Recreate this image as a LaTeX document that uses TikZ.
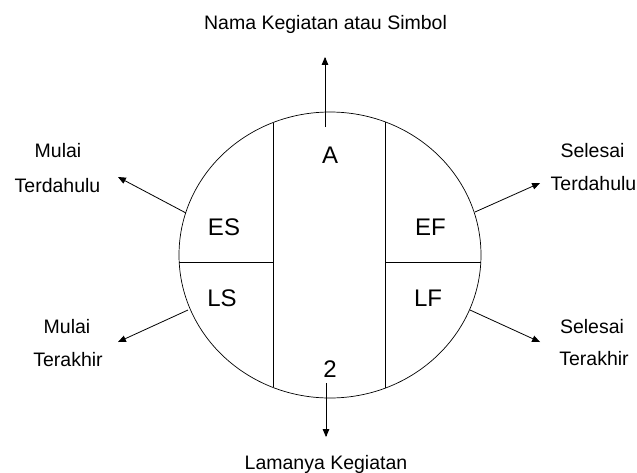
\documentclass[tikz,border=0pt]{standalone}
\usepackage{fontspec}
\setmainfont{Liberation Sans}
\usetikzlibrary{arrows}
\tikzset{>=triangle 45}

\begin{document}
\begin{tikzpicture}
    [x=1pt, y=-1pt, line width=0.8pt,
      lbl/.style={anchor=base, inner sep=0pt, font=\fontsize{19.5}{20}\selectfont},
      cell/.style={anchor=base, inner sep=0pt, font=\fontsize{24}{24}\selectfont}]

    \useasboundingbox (0,0) rectangle (637,472);

    % activity circle
    \coordinate (centre) at (330,255);
    \draw[line width=0.7pt] (centre) ellipse [x radius=151pt, y radius=143pt];

    \coordinate (left-top) at (273,122.6);
    \coordinate (left-bot) at (273,387.4);
    \coordinate (right-top) at (385,121.8);
    \coordinate (right-bot) at (385,388.2);
    \draw (left-top) -- (left-bot);
    \draw (right-top) -- (right-bot);

    \coordinate (mid-west) at (179.2,262);
    \coordinate (mid-east) at (480.8,262);
    \draw (mid-west) -- (left-top |- mid-west);
    \draw (right-top |- mid-east) -- (mid-east);

    \node[cell] (act) at (330,163) {A};
    \node[cell] (es) at (224,235) {ES};
    \node[cell] (ef) at (430.5,235) {EF};
    \node[cell] (ls) at (222,306) {LS};
    \node[cell] (lf) at (428,306) {LF};
    \node[cell] (dur) at (330,377) {2};

    % arrows out of the circle
    \coordinate (top-in) at (325,127);
    \coordinate (top-out) at (325,57);
    \coordinate (bot-in) at (326,383);
    \coordinate (bot-out) at (326,437);
    \coordinate (es-in) at (186,213);
    \coordinate (es-out) at (118,177);
    \coordinate (ef-in) at (475,212);
    \coordinate (ef-out) at (540,183);
    \coordinate (ls-in) at (188,310);
    \coordinate (ls-out) at (118,342);
    \coordinate (lf-in) at (470,310);
    \coordinate (lf-out) at (540,342);

    \draw[->] (top-in) -- (top-out);
    \draw[->] (bot-in) -- (bot-out);
    \draw[->] (es-in) -- (es-out);
    \draw[->] (ef-in) -- (ef-out);
    \draw[->] (ls-in) -- (ls-out);
    \draw[->] (lf-in) -- (lf-out);

    % labels
    \node[lbl] (name-lbl) at (325.5,29) {Nama Kegiatan atau Simbol};
    \node[lbl] (dur-lbl) at (326,469) {Lamanya Kegiatan};

    \node[lbl] (es-lbl1) at (58,157) {Mulai};
    \node[lbl] (es-lbl2) at (57.5,192) {Terdahulu};
    \node[lbl] (ef-lbl1) at (592.5,157) {Selesai};
    \node[lbl] (ef-lbl2) at (593.5,190) {Terdahulu};
    \node[lbl] (ls-lbl1) at (67,333) {Mulai};
    \node[lbl] (ls-lbl2) at (68,366) {Terakhir};
    \node[lbl] (lf-lbl1) at (592,333) {Selesai};
    \node[lbl] (lf-lbl2) at (594,365) {Terakhir};
\end{tikzpicture}
\end{document}
